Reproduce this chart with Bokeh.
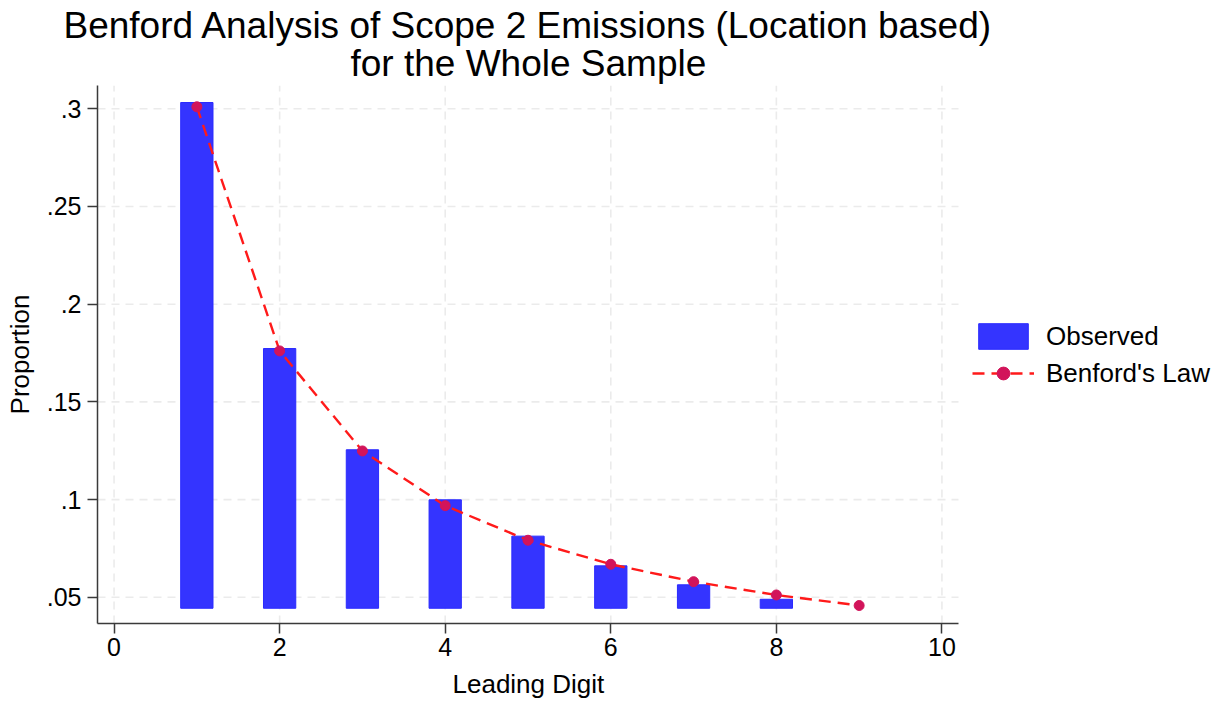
from bokeh.plotting import figure
from bokeh.models import (Range1d, FixedTicker, Legend, LegendItem, Title,
                          ColumnDataSource, CDSView, BooleanFilter, CustomJSTickFormatter)
from bokeh.embed import file_html
from bokeh.resources import INLINE

# Leading-digit distribution of scope 2 (location based) emissions
digits = [1, 2, 3, 4, 5, 6, 7, 8, 9]
observed = [0.3032, 0.1773, 0.1255, 0.0999, 0.0813, 0.0661, 0.0564, 0.0490, 0.0444]
benford = [0.3010, 0.1761, 0.1249, 0.0969, 0.0792, 0.0669, 0.0580, 0.0512, 0.0458]
bar_base = min(observed)

x_ticks = [0, 2, 4, 6, 8, 10]
y_ticks = [0.05, 0.10, 0.15, 0.20, 0.25, 0.30]

title_lines = ["Benford Analysis of Scope 2 Emissions (Location based)",
               "for the Whole Sample"]
x_title = "Leading Digit"
y_title = "Proportion"
series_names = ["Observed", "Benford's Law"]

FONT = "Liberation Sans"
BAR_FILL = "#3434ff"
BAR_LINE = "#2a2aff"
LINE_RED = "#ff1a1a"
DOT = "#d2145a"
GRID = "#ebebeb"
AXIS = "#3a3a3a"

# axis extents; the drawing area runs on to the right edge so that the key
# sits inside it, while axes and grid keep to the axis box
X_LO, X_HI = -0.2, 10.2
Y_LO, Y_HI = 0.0366, 0.3119
BOX_W, BOX_H, LEFT, TOP = 861, 538, 97, 85
FRAME_W = 1223 - LEFT
x_end = X_LO + (X_HI - X_LO) * FRAME_W / BOX_W

src = ColumnDataSource(dict(digit=digits, observed=observed, benford=benford,
                            base=[bar_base] * len(digits)))
# only bars that rise above the base get drawn
visible = CDSView(filter=BooleanFilter([o > bar_base for o in observed]))

p = figure(frame_width=FRAME_W, frame_height=BOX_H, output_backend="svg",
           toolbar_location=None,
           x_range=Range1d(X_LO, x_end), y_range=Range1d(Y_LO, Y_HI),
           min_border_left=LEFT, min_border_right=0,
           min_border_top=TOP, min_border_bottom=83)
p.outline_line_color = None
p.background_fill_color = "white"
p.border_fill_color = "white"
p.xgrid.visible = False
p.ygrid.visible = False

# dashed grid, limited to the axis box
grid_style = dict(line_color=GRID, line_width=1.6, line_dash="8 6")
p.segment(x0=X_LO, x1=X_HI, y0=y_ticks, y1=y_ticks, **grid_style)
p.segment(x0=x_ticks, x1=x_ticks, y0=Y_LO, y1=Y_HI, **grid_style)

bar_style = dict(fill_color=BAR_FILL, line_color=BAR_LINE, line_width=1)
line_style = dict(line_color=LINE_RED, line_width=2.4, line_dash="12 7")
dot_style = dict(size=10, fill_color=DOT, line_color=DOT)

bars = p.vbar(x="digit", top="observed", bottom="base", width=0.39, source=src,
              view=visible, **bar_style)
law_line = p.line(x="digit", y="benford", source=src, **line_style)
law_pts = p.scatter(x="digit", y="benford", source=src, **dot_style)

# axes
p.xaxis.ticker = FixedTicker(ticks=x_ticks)
p.xaxis.bounds = (X_LO, X_HI)
p.yaxis.ticker = FixedTicker(ticks=y_ticks)
p.yaxis.formatter = CustomJSTickFormatter(
    code="return tick.toFixed(2).replace(/0+$/, '').replace(/^0/, '');")
for ax in (p.xaxis[0], p.yaxis[0]):
    ax.axis_line_color = AXIS
    ax.axis_line_width = 1.5
    ax.major_tick_line_color = AXIS
    ax.major_tick_line_width = 1.5
    ax.major_tick_out = 10
    ax.major_tick_in = 0
    ax.minor_tick_line_color = None
    ax.major_label_text_font = FONT
    ax.major_label_text_font_size = "25px"
    ax.major_label_text_color = "black"
    ax.axis_label_text_font = FONT
    ax.axis_label_text_font_size = "26px"
    ax.axis_label_text_font_style = "normal"
    ax.axis_label_text_color = "black"
p.yaxis.axis_label = y_title
p.xaxis.major_label_standoff = 4
p.yaxis.major_label_standoff = 6
p.yaxis.axis_label_standoff = 9
p.yaxis.major_label_orientation = "horizontal"

# headings set with left offsets so each is centred under/over the axis box
# (widths from Liberation Sans advance widths: 37px heading, 26px x title)
p.title.visible = False
heading = [(title_lines[1], 3, 253), (title_lines[0], -13, -34)]
for text, stand, off in heading:
    p.add_layout(Title(text=text, align="left", offset=off, standoff=stand,
                       text_font=FONT, text_font_size="37px",
                       text_font_style="normal", text_color="black"), "above")
p.add_layout(Title(text=x_title, align="left", offset=355, standoff=16,
                   text_font=FONT, text_font_size="26px",
                   text_font_style="normal", text_color="black"), "below")

legend = Legend(items=[LegendItem(label=series_names[0], renderers=[bars]),
                       LegendItem(label=series_names[1], renderers=[law_line, law_pts])],
                location=(875, 234), glyph_width=62, glyph_height=32, label_standoff=12,
                spacing=5, padding=10, margin=0, label_height=32,
                border_line_color=None, background_fill_alpha=0,
                label_text_font=FONT, label_text_font_size="26px", label_text_color="black")
p.add_layout(legend)

open("out.html", "w").write(file_html(p, INLINE))
